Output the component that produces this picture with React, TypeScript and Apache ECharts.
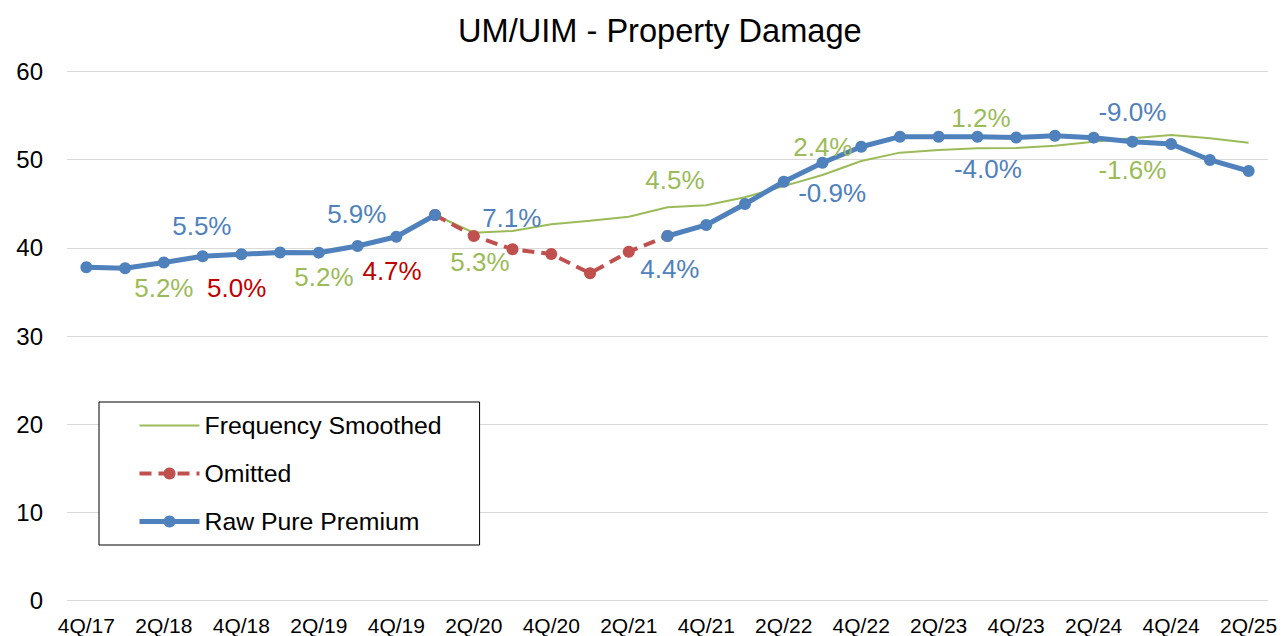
import React, { useEffect, useRef } from 'react';
import * as echarts from 'echarts';

const categories = ['4Q/17','1Q/18','2Q/18','3Q/18','4Q/18','1Q/19','2Q/19','3Q/19','4Q/19','1Q/20','2Q/20','3Q/20','4Q/20','1Q/21','2Q/21','3Q/21','4Q/21','1Q/22','2Q/22','3Q/22','4Q/22','1Q/23','2Q/23','3Q/23','4Q/23','1Q/24','2Q/24','3Q/24','4Q/24','1Q/25','2Q/25'];

const rawPurePremium = [37.8, 37.7, 38.35, 39.05, 39.28, 39.48, 39.46, 40.22, 41.27, 43.73, null, null, null, null, null, 41.35, 42.6, 44.98, 47.5, 49.66, 51.47, 52.61, 52.61, 52.61, 52.52, 52.72, 52.5, 52.04, 51.78, 49.97, 48.72];

const omitted = [null, null, null, null, null, null, null, null, null, 43.73, 41.35, 39.84, 39.31, 37.12, 39.57, 41.35, null, null, null, null, null, null, null, null, null, null, null, null, null, null, null];

const frequencySmoothed = [null, null, null, null, null, null, null, null, null, 43.73, 41.72, 41.92, 42.68, 43.08, 43.54, 44.6, 44.83, 45.74, 47.0, 48.27, 49.85, 50.8, 51.1, 51.29, 51.33, 51.59, 52.04, 52.42, 52.8, 52.42, 51.92];

const yTicks = { min: 0, max: 60, interval: 10 };

// Annotation labels: text, colour key, position in data space (category index, value)
const annoText = ['5.5%', '5.2%', '5.0%', '5.9%', '5.2%', '4.7%', '7.1%', '5.3%', '4.5%', '4.4%', '2.4%', '-0.9%', '1.2%', '-4.0%', '-9.0%', '-1.6%'];
const annoKind = ['b', 'g', 'r', 'b', 'g', 'r', 'b', 'g', 'g', 'b', 'g', 'b', 'g', 'b', 'b', 'g'];
const annoX = [2.98, 2.0, 3.88, 6.98, 6.13, 7.89, 10.98, 10.16, 15.19, 15.06, 19.01, 19.25, 23.09, 23.27, 27.0, 27.0];
const annoY = [42.47, 35.45, 35.45, 43.84, 36.7, 37.38, 43.39, 38.4, 47.7, 37.61, 51.41, 46.2, 54.73, 48.95, 55.4, 48.83];

const FONT = '"Liberation Sans", Arial, sans-serif';
const BLUE = '#4F81BD';
const RED = '#C0504D';
const GREEN = '#9BBB59';
const labelColors: Record<string, string> = { b: '#4F81BD', g: '#9BBB59', r: '#C00000' };

export default function App() {
  const ref = useRef<HTMLDivElement>(null);
  useEffect(() => {
    if (!ref.current) return;
    const chart = echarts.init(ref.current, undefined, { renderer: 'svg' });
    const annoData = annoText.map((t, i) => ({
      name: t,
      value: [annoX[i], annoY[i]],
      label: { color: labelColors[annoKind[i]] },
    }));
    chart.setOption({
      animation: false,
      backgroundColor: '#fff',
      title: {
        text: 'UM/UIM - Property Damage',
        left: 458,
        top: 14,
        padding: 0,
        textStyle: { fontFamily: FONT, fontSize: 32.6, fontWeight: 'normal', color: '#000' },
      },
      grid: { left: 67, right: 15, top: 71.5, bottom: 35.3, containLabel: false },
      legend: {
        orient: 'vertical',
        left: 99,
        top: 402,
        itemWidth: 60,
        itemHeight: 15,
        itemGap: 23,
        padding: [11, 38, 11, 38],
        borderColor: '#000',
        borderWidth: 1,
        backgroundColor: '#fff',
        textStyle: { fontFamily: FONT, fontSize: 24.8, color: '#000', lineHeight: 24 },
        data: [
          { name: 'Frequency Smoothed', itemStyle: { opacity: 0 }, lineStyle: { width: 2, color: GREEN } },
          { name: 'Omitted', lineStyle: { width: 4, type: [12, 7], color: RED } },
          { name: 'Raw Pure Premium', lineStyle: { width: 5, color: BLUE } },
        ],
      },
      xAxis: [
        {
          type: 'category',
          data: categories,
          boundaryGap: true,
          axisLine: { show: false },
          axisTick: { show: false },
          axisLabel: { interval: 1, margin: 14, fontFamily: FONT, fontSize: 21, color: '#000' },
          splitLine: { show: false },
        },
        { type: 'value', min: -0.5, max: 30.5, show: false },
      ],
      yAxis: {
        type: 'value',
        min: yTicks.min,
        max: yTicks.max,
        interval: yTicks.interval,
        axisLine: { show: false },
        axisTick: { show: false },
        axisLabel: { margin: 24, fontFamily: FONT, fontSize: 24, color: '#000' },
        splitLine: { lineStyle: { color: '#D9D9D9', width: 1 } },
      },
      series: [
        {
          name: 'Frequency Smoothed',
          type: 'line',
          data: frequencySmoothed,
          symbol: 'none',
          lineStyle: { color: GREEN, width: 2 },
          itemStyle: { color: GREEN },
          z: 2,
        },
        {
          name: 'Omitted',
          type: 'line',
          data: omitted,
          symbol: 'circle',
          symbolSize: 12,
          lineStyle: { color: RED, width: 4, type: [12, 7] },
          itemStyle: { color: RED },
          z: 3,
        },
        {
          name: 'Raw Pure Premium',
          type: 'line',
          data: rawPurePremium,
          symbol: 'circle',
          symbolSize: 12,
          connectNulls: false,
          lineStyle: { color: BLUE, width: 5 },
          itemStyle: { color: BLUE },
          z: 4,
        },
        {
          name: 'annotations',
          type: 'scatter',
          xAxisIndex: 1,
          data: annoData,
          symbolSize: 1,
          itemStyle: { color: 'rgba(0,0,0,0)', opacity: 1 },
          silent: true,
          label: {
            show: true,
            position: 'inside',
            formatter: '{b}',
            fontFamily: FONT,
            fontSize: 26,
            opacity: 1,
          },
          z: 5,
        },
      ],
    });
    return () => chart.dispose();
  }, []);
  return <div ref={ref} style={{ position: 'fixed', left: 0, top: 0, width: 1283, height: 636 }} />;
}
